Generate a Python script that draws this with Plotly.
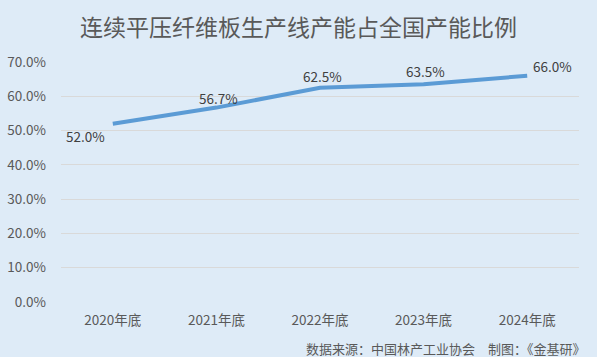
import plotly.graph_objects as go

categories = ["2020年底", "2021年底", "2022年底", "2023年底", "2024年底"]
values = [0.520, 0.567, 0.625, 0.635, 0.660]
label_text = ["52.0%", "56.7%", "62.5%", "63.5%", "66.0%"]

FONT = "Noto Sans CJK SC"
BG = "#DEEBF7"

fig = go.Figure()
fig.add_trace(go.Scatter(
    x=categories, y=values, mode="lines",
    line=dict(color="#5B9BD5", width=4),
    hoverinfo="skip", showlegend=False,
))

# data labels placed at the data points, offset in pixels
offsets = [(-27, -12), (2, 10), (2, 12), (2, 13), (25, 10)]
annotations = []
for c, v, t, (dx, dy) in zip(categories, values, label_text, offsets):
    annotations.append(dict(x=c, y=v, xref="x", yref="y", text=t, showarrow=False,
                            xshift=dx, yshift=dy, xanchor="center", yanchor="middle",
                            font=dict(family=FONT, size=13.5, color="#404040")))

annotations.append(dict(text="数据来源：中国林产工业协会　制图：《金基研》",
                        xref="paper", yref="paper", x=1 + 9 / 518, xanchor="right",
                        y=-(348 - 302) / 240, yanchor="middle", showarrow=False,
                        font=dict(family=FONT, size=13, color="#595959")))

fig.update_layout(
    width=597, height=357,
    paper_bgcolor=BG, plot_bgcolor=BG,
    margin=dict(l=61, r=18, t=62, b=55, autoexpand=False),
    title=dict(text="连续平压纤维板生产线产能占全国产能比例",
               x=0.5, xanchor="center", y=1 - 28 / 357, yanchor="middle",
               font=dict(family=FONT, size=23, color="#595959")),
    xaxis=dict(type="category", range=[-0.5, 4.5], automargin=False,
               showgrid=False, showline=False, zeroline=False,
               tickfont=dict(family=FONT, size=13.5, color="#595959"),
               ticklabelstandoff=8),
    yaxis=dict(range=[0, 0.7], dtick=0.1, tickformat=".1%", automargin=False,
               showgrid=True, gridcolor="#D9D9D9", gridwidth=1,
               zeroline=False, showline=False,
               tickfont=dict(family=FONT, size=13.5, color="#595959"),
               ticklabelstandoff=14),
    annotations=annotations,
)

fig.write_html("out.html", config={"displayModeBar": False},
               post_script="document.body.style.margin='0';document.body.style.overflow='hidden';")
